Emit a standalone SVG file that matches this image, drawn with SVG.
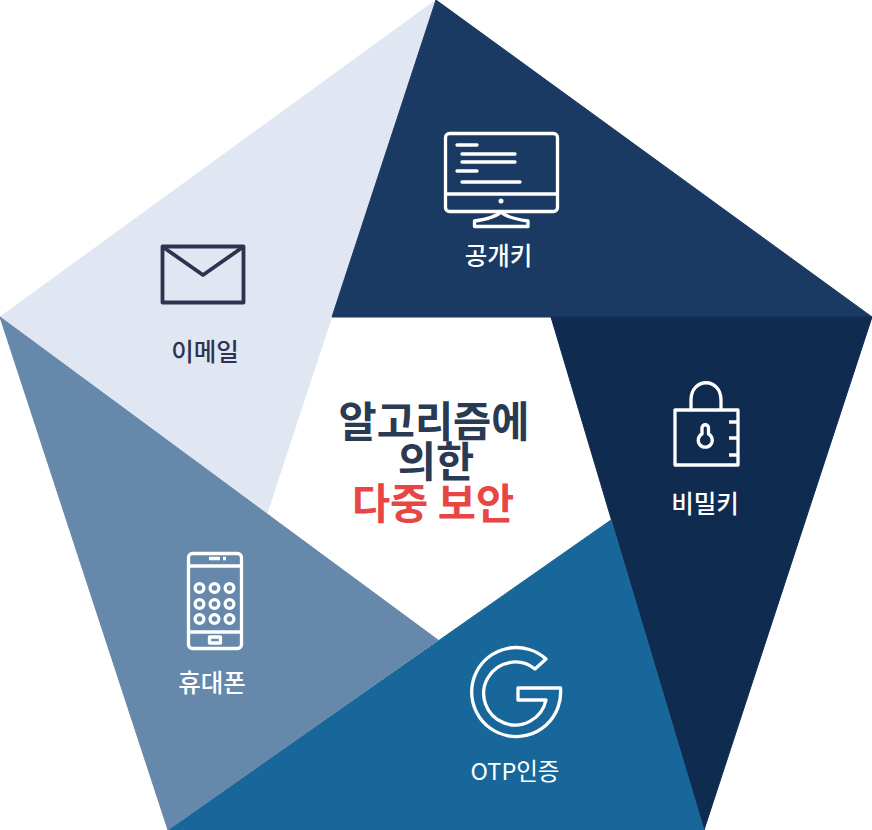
<svg xmlns="http://www.w3.org/2000/svg" width="872" height="830" viewBox="0 0 872 830">
<style>
text{font-family:"Noto Sans CJK KR","Liberation Sans",sans-serif;text-anchor:middle}
.l{font-size:24.500px;font-weight:500;fill:#fff}
.t{font-size:41.500px;font-weight:700;fill:#2a3a52}
.i{fill:none;stroke:#fff;stroke-width:3.300;stroke-linejoin:round}
.s{stroke-linecap:round}
.p{stroke-width:1;stroke-linejoin:round}
</style>
<rect width="872" height="830" fill="#fff"/>
<g id="email"><polygon class="p" points="436,0 267,513 0,317" fill="#e0e7f2" stroke="#e0e7f2"/>
<g fill="none" stroke="#2e3350" stroke-width="3.800" stroke-linejoin="round"><rect x="162.500" y="246.500" width="81" height="56"/><path d="M163 247L203 275L243 247"/></g>
<text class="l" x="205" y="361" style="fill:#2e3350">이메일</text></g>
<g id="public-key"><polygon class="p" points="436,0 872,317 332,317" fill="#1a3a63" stroke="#1a3a63"/>
<g class="i"><rect x="445.500" y="133.500" width="112" height="78" rx="4"/><path d="M446 194H557M474.500 226.500V221C488 219 497 216 501 212C505 216 514 219 528 221V226.500Z"/><path class="s" d="M457 145H477M462 154H515M462 162H515M457 171H477M462 182H520"/></g><circle cx="501" cy="201" r="2.500" fill="#fff"/>
<text class="l" x="498.500" y="265">공개키</text></g>
<g id="secret-key"><polygon class="p" points="551,317 872,317 704,830" fill="#102b50" stroke="#102b50"/>
<g class="i"><rect x="675" y="410" width="63" height="55"/><path d="M691 410V400C691 377 721 377 721 400V410M729 422H738M729 438H738M729 455H738"/><path d="M702 428V434A7 7 0 1 0 708.500 434V428A3.200 3.200 0 0 0 702 428Z"/></g>
<text class="l" x="705" y="513">비밀키</text></g>
<g id="otp"><polygon class="p" points="611,520 704,830 168,830" fill="#18679a" stroke="#18679a"/>
<path class="i" d="M546 659A44.500 44.500 0 1 0 560.500 688H518V700H546A31.500 31.500 0 1 1 535 669Z" stroke-width="2.500"/>
<text class="l" x="515" y="780" style="font-size:23.500px;font-weight:400">OTP인증</text></g>
<g id="phone"><polygon class="p" points="0,317 438,640 168,830" fill="#6688ab" stroke="#6688ab"/>
<g class="i"><rect x="188.500" y="553.500" width="53" height="95" rx="4"/><path d="M189 566H241M189 632H241"/><rect x="209.500" y="637" width="11" height="6"/></g>
<g fill="none" stroke="#fff" stroke-width="3.300"><circle cx="199.500" cy="588" r="4.400"/><circle cx="214.500" cy="588" r="4.400"/><circle cx="229.500" cy="588" r="4.400"/><circle cx="199.500" cy="604" r="4.400"/><circle cx="214.500" cy="604" r="4.400"/><circle cx="229.500" cy="604" r="4.400"/><circle cx="199.500" cy="619" r="4.400"/><circle cx="214.500" cy="619" r="4.400"/><circle cx="229.500" cy="619" r="4.400"/></g>
<path d="M209 558.500H220M223 558.500H226" stroke="#fff" stroke-width="3.300"/>
<text class="l" x="212" y="692">휴대폰</text></g>
<g id="title"><text class="t"><tspan x="434" y="437">알고리즘에</tspan><tspan x="436" y="477">의한</tspan><tspan x="433" y="519" style="fill:#e84545">다중 보안</tspan></text></g>
</svg>
